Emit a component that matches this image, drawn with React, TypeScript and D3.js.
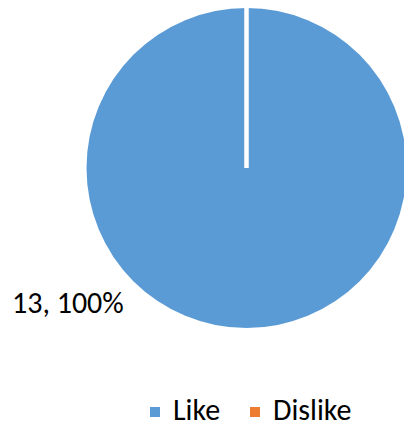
import React from "react";
import * as d3 from "d3";

const categories = ["Like", "Dislike"];
const values = [13, 0];
const colors = ["#5B9BD5", "#ED7D31"];

export default function App() {
  const width = 404;
  const height = 428;
  const cx = 246.5;
  const cy = 168;
  const radius = 160;

  const data = categories.map((c, i) => ({ name: c, value: values[i] }));
  const total = d3.sum(values);

  const pie = d3.pie<any>().sort(null).value(d => d.value);
  const arcs = pie(data);
  const arcGen = d3.arc<any>().innerRadius(0).outerRadius(radius);

  // slice borders (Excel draws a white edge, visible even for a full slice)
  const edges = arcs.map(a => a.startAngle);

  const font = "Calibri, Carlito, 'Liberation Sans', Arial, sans-serif";

  return (
    <svg
      width={width}
      height={height}
      style={{ position: "absolute", left: 0, top: 0, background: "#fff" }}
    >
      <g transform={`translate(${cx},${cy})`}>
        {arcs.map((a, i) =>
          a.value > 0 ? (
            <path key={i} d={arcGen(a) || ""} fill={colors[i]} />
          ) : null
        )}
        {edges.map((ang, i) => (
          <line
            key={i}
            x1={0}
            y1={0}
            x2={Math.sin(ang) * (radius + 2)}
            y2={-Math.cos(ang) * (radius + 2)}
            stroke="#fff"
            strokeWidth={4}
          />
        ))}
      </g>

      {/* data label */}
      {arcs
        .filter(a => a.value > 0)
        .map((a, i) => (
          <text
            key={i}
            x={12}
            y={313}
            fontFamily={font}
            fontSize={30}
            fill="#000"
          >
            {`${a.data.value}, ${d3.format(".0%")(a.data.value / total)}`}
          </text>
        ))}

      {/* legend */}
      <g fontFamily={font} fontSize={30} fill="#000">
        {categories.map((c, i) => {
          const x = i === 0 ? 150 : 250;
          return (
            <g key={c}>
              <rect x={x} y={407} width={10} height={10} fill={colors[i]} />
              <text x={x + 23} y={420}>
                {c}
              </text>
            </g>
          );
        })}
      </g>
    </svg>
  );
}
